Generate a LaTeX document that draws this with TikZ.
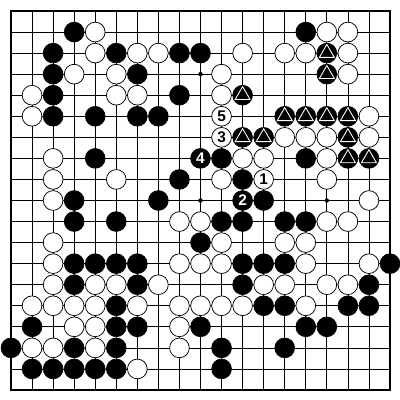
\documentclass[tikz,border=0pt]{standalone}
\usepackage{fontspec}
\setsansfont{Liberation Sans}
\usetikzlibrary{shapes.geometric}

\begin{document}
\begin{tikzpicture}[x=0.6cm,y=-0.6cm,
		black stone/.style = {circle,draw=black,fill=black,line width=0.6pt,minimum size=16pt,inner sep=0pt,
			text=white,font=\sffamily\bfseries\fontsize{12.5}{12.5}\selectfont},
		white stone/.style = {black stone,fill=white,text=black},
		marker/.style = {regular polygon,regular polygon sides=3,draw=white,line width=0.7pt,minimum size=14pt,inner sep=0pt},
		star point/.style = {circle,fill=black,minimum size=3.6pt,inner sep=0pt}]
	\useasboundingbox (-0.522,-0.522) rectangle (18.475,18.475);
	% board
	\foreach \i in {1,...,17} {
		\draw[line width=0.6pt] (\i,0) -- (\i,18);
		\draw[line width=0.6pt] (0,\i) -- (18,\i);
	}
	\draw[line width=1.6pt] (0,0) rectangle (18,18);
	\foreach \x/\y in {3/3,9/3,15/3,3/9,9/9,15/9,3/15,9/15,15/15}
		\node[star point] (s\x-\y) at (\x,\y) {};
	% black stones
	\foreach \x/\y in {3/1,14/1,2/2,5/2,8/2,9/2,2/3,6/3,2/4,8/4,2/5,4/5,6/5,7/5,
			4/7,10/7,14/7,8/8,11/8,3/9,7/9,12/9,3/10,5/10,10/10,11/10,13/10,14/10,9/11,
			3/12,4/12,5/12,6/12,11/12,12/12,13/12,18/12,3/13,6/13,11/13,17/13,
			5/14,12/14,13/14,16/14,17/14,1/15,5/15,6/15,9/15,14/15,15/15,
			0/16,3/16,5/16,10/16,13/16,1/17,2/17,3/17,4/17,5/17,10/17}
		\node[black stone] (b\x-\y) at (\x,\y) {};
	% marked black stones
	\foreach \x/\y in {15/2,15/3,11/4,13/5,14/5,15/5,16/5,11/6,12/6,16/6,16/7,17/7} {
		\node[black stone] (b\x-\y) at (\x,\y) {};
		\node[marker] (m\x-\y) at (b\x-\y) {};
	}
	% white stones
	\foreach \x/\y in {4/1,15/1,16/1,4/2,6/2,7/2,11/2,13/2,14/2,16/2,3/3,5/3,10/3,16/3,
			1/4,5/4,6/4,10/4,1/5,17/5,13/6,14/6,15/6,17/6,2/7,11/7,12/7,15/7,
			2/8,5/8,10/8,15/8,2/9,17/9,8/10,9/10,15/10,16/10,2/11,10/11,13/11,14/11,
			2/12,8/12,9/12,10/12,14/12,17/12,2/13,4/13,5/13,7/13,12/13,13/13,15/13,16/13,
			1/14,2/14,3/14,4/14,6/14,8/14,9/14,10/14,11/14,14/14,3/15,4/15,8/15,
			1/16,2/16,4/16,8/16,6/17}
		\node[white stone] (w\x-\y) at (\x,\y) {};
	% numbered moves
	\node[white stone] (w12-8) at (12,8) {1};
	\node[black stone] (b11-9) at (11,9) {2};
	\node[white stone] (w10-6) at (10,6) {3};
	\node[black stone] (b9-7) at (9,7) {4};
	\node[white stone] (w10-5) at (10,5) {5};
\end{tikzpicture}
\end{document}
